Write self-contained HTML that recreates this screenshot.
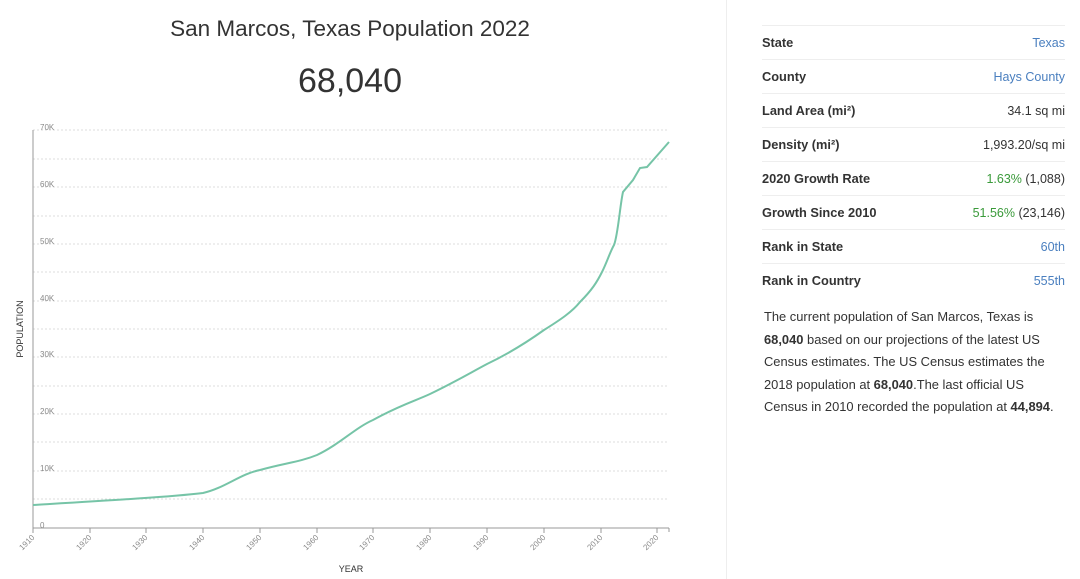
<!DOCTYPE html>
<html><head><meta charset="utf-8"><style>
body{margin:0;width:1080px;height:579px;background:#fff;font-family:"Liberation Sans",sans-serif;overflow:hidden;position:relative}
.t{position:absolute;left:0;width:700px;text-align:center;color:#333}
table{position:absolute;left:762px;top:25px;width:303px;border-collapse:collapse;font-size:12.5px}
td{height:33px;border-top:1px solid #eee;color:#333;padding:0}
td:first-child{font-weight:bold;font-size:12.8px}
td:last-child{text-align:right}
.b{color:#4a7fbf}.g{color:#3a9a3a}
p{position:absolute;left:764px;top:306px;width:298px;font-size:12.9px;line-height:22.5px;color:#333;margin:0}
</style></head><body>
<div class="t" style="top:16px;font-size:22.5px">San Marcos, Texas Population 2022</div>
<div class="t" style="top:62px;font-size:34px">68,040</div>
<div style="position:absolute;left:726px;top:0;width:1px;height:579px;background:#eee"></div>
<svg width="726" height="579" style="position:absolute;left:0;top:0" font-family="Liberation Sans" font-size="8" fill="#888">
<g stroke="#ddd" stroke-dasharray="2,2">
<line x1="33" x2="669" y1="499" y2="499"/><line x1="33" x2="669" y1="471" y2="471"/><line x1="33" x2="669" y1="442" y2="442"/><line x1="33" x2="669" y1="414" y2="414"/><line x1="33" x2="669" y1="386" y2="386"/><line x1="33" x2="669" y1="357" y2="357"/><line x1="33" x2="669" y1="329" y2="329"/><line x1="33" x2="669" y1="301" y2="301"/><line x1="33" x2="669" y1="272" y2="272"/><line x1="33" x2="669" y1="244" y2="244"/><line x1="33" x2="669" y1="216" y2="216"/><line x1="33" x2="669" y1="187" y2="187"/><line x1="33" x2="669" y1="159" y2="159"/><line x1="33" x2="669" y1="130" y2="130"/>
</g>
<g stroke="#999"><line x1="33" y1="130" x2="33" y2="528"/><line x1="33" y1="528" x2="669" y2="528"/>
<line x1="669" y1="528" x2="669" y2="532"/></g>
<g><text x="40" y="528">0</text><text x="40" y="471">10K</text><text x="40" y="414">20K</text><text x="40" y="357">30K</text><text x="40" y="301">40K</text><text x="40" y="244">50K</text><text x="40" y="187">60K</text><text x="40" y="130">70K</text></g>
<g stroke="#999">
<line x1="33" x2="33" y1="528" y2="533"/><line x1="90" x2="90" y1="528" y2="533"/><line x1="146" x2="146" y1="528" y2="533"/><line x1="203" x2="203" y1="528" y2="533"/><line x1="260" x2="260" y1="528" y2="533"/><line x1="317" x2="317" y1="528" y2="533"/><line x1="373" x2="373" y1="528" y2="533"/><line x1="430" x2="430" y1="528" y2="533"/><line x1="487" x2="487" y1="528" y2="533"/><line x1="544" x2="544" y1="528" y2="533"/><line x1="601" x2="601" y1="528" y2="533"/><line x1="657" x2="657" y1="528" y2="533"/></g>
<g text-anchor="end">
<text transform="translate(35,538) rotate(-45)">1910</text><text transform="translate(92,538) rotate(-45)">1920</text><text transform="translate(148,538) rotate(-45)">1930</text><text transform="translate(205,538) rotate(-45)">1940</text><text transform="translate(262,538) rotate(-45)">1950</text><text transform="translate(319,538) rotate(-45)">1960</text><text transform="translate(375,538) rotate(-45)">1970</text><text transform="translate(432,538) rotate(-45)">1980</text><text transform="translate(489,538) rotate(-45)">1990</text><text transform="translate(546,538) rotate(-45)">2000</text><text transform="translate(603,538) rotate(-45)">2010</text><text transform="translate(659,538) rotate(-45)">2020</text></g>
<text x="351" y="572" text-anchor="middle" fill="#333" font-size="9">YEAR</text>
<text transform="translate(23,329) rotate(-90)" text-anchor="middle" fill="#333" font-size="9">POPULATION</text>
<path d="M33,505 C100,501 170,497 203,493 C225,488 240,474 260,470 C285,463 300,462 317,455 C340,444 355,428 373,420 C400,405 415,401 430,394 C455,382 470,373 487,364 C510,353 530,340 544,330 C560,320 572,312 580,302 C592,290 597,282 602,272 C607,262 610,252 614,245 C618,235 620,205 623,192 L633,180 L640,168 L647,167 L669,142" fill="none" stroke="#76c4a7" stroke-width="2"/>
</svg>
<table>
<tr><td>State</td><td class="b">Texas</td></tr>
<tr><td>County</td><td class="b">Hays County</td></tr>
<tr><td>Land Area (mi²)</td><td>34.1 sq mi</td></tr>
<tr><td>Density (mi²)</td><td>1,993.20/sq mi</td></tr>
<tr><td>2020 Growth Rate</td><td><span class="g">1.63%</span> (1,088)</td></tr>
<tr><td>Growth Since 2010</td><td><span class="g">51.56%</span> (23,146)</td></tr>
<tr><td>Rank in State</td><td class="b">60th</td></tr>
<tr><td>Rank in Country</td><td class="b">555th</td></tr>
</table>
<p>The current population of San Marcos, Texas is <b>68,040</b> based on our projections of the latest US Census estimates. The US Census estimates the 2018 population at <b>68,040</b>.The last official US Census in 2010 recorded the population at <b>44,894</b>.</p>
</body></html>
